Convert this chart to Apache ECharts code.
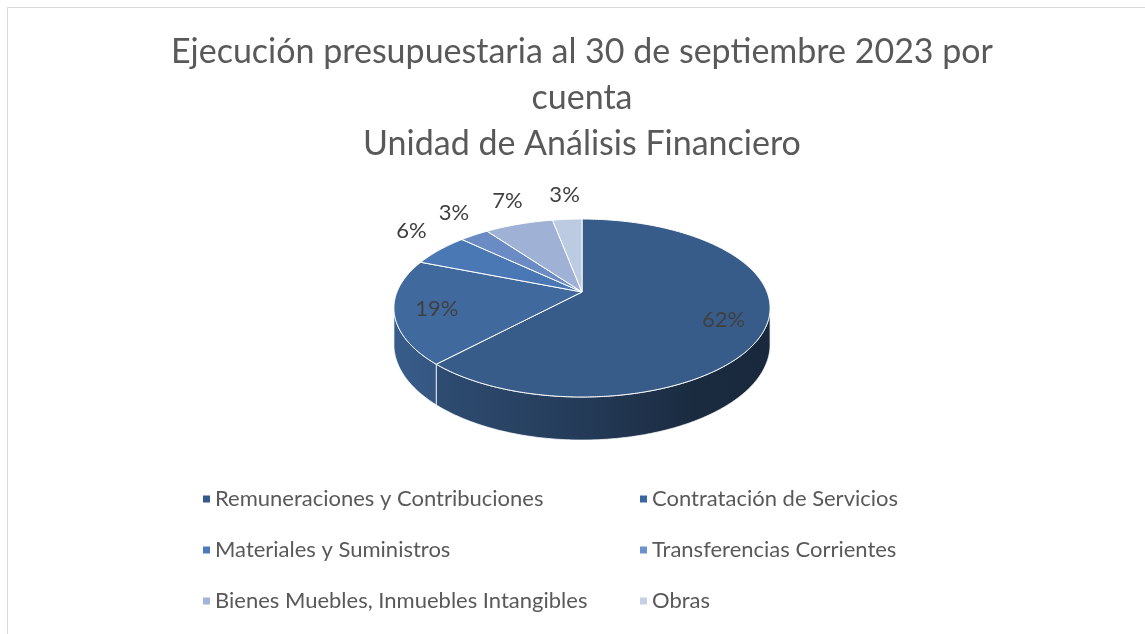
<!DOCTYPE html>
<html>
<head>
<meta charset="utf-8">
<script src="https://cdn.jsdelivr.net/npm/echarts@6/dist/echarts.min.js"></script>
<style>
  html, body { margin: 0; padding: 0; width: 1145px; height: 634px; overflow: hidden; background: #fff; }
  #main {
    position: absolute; left: 7px; top: 7px;
    width: 1148px; height: 640px;
    border-left: 1px solid #d9d9d9;
    border-top: 1px solid #d9d9d9;
  }
</style>
</head>
<body>
<div id="main"></div>
<script>
const categories = [
  "Remuneraciones y Contribuciones",
  "Contratación de Servicios",
  "Materiales y Suministros",
  "Transferencias Corrientes",
  "Bienes Muebles, Inmuebles Intangibles",
  "Obras"
];
const values = [62, 19, 6, 3, 7, 3];

// colours: legend swatch and lit top face of each slice
const legendColors = ["#34598a", "#3b67a0", "#4a7bbd", "#6d92cb", "#a1b4da", "#c5d0e6"];
const topColors = ["#385c89", "#40699d", "#4a78b4", "#6a8bc3", "#9fb2d6", "#bccae2"];

const FONT = "Lato";
const TXT = "#595959";

let myChart = echarts.init(document.getElementById("main"));

// fake perspective for the tilted pie
const cx = 574, cy = 284;   // apex of slices
const A = 86.1, B = 185, k = 0.18, H = 35.3;
const SIL0 = Math.acos(-k), SIL1 = 2 * Math.PI - SIL0;

function project(r, t) {
  let w = 1 + k * r * Math.cos(t);
  return [cx + B * r * Math.sin(t) / w, cy - A * r * Math.cos(t) / w];
}
function bottom(t) {
  let p = project(1, t);
  let w = 1 + k * Math.cos(t);
  return [p[0], p[1] + H / w];
}
function shade(hex, f) {
  let n = parseInt(hex.slice(1), 16);
  let r = Math.round(((n >> 16) & 255) * f), g = Math.round(((n >> 8) & 255) * f), b = Math.round((n & 255) * f);
  return "rgb(" + r + "," + g + "," + b + ")";
}
function arc(a0, a1, fn) {
  let pts = [], steps = Math.max(2, Math.ceil((a1 - a0) / 0.01));
  for (let s = 0; s <= steps; s++) pts.push(fn(a0 + (a1 - a0) * s / steps));
  return pts;
}

const total = values.reduce((a, b) => a + b, 0);

function renderSlice(i) {
  return function (params, api) {
    let start = 0;
    for (let j = 0; j < i; j++) start += values[j];
    let a0 = start / total * 2 * Math.PI;
    let a1 = (start + values[i]) / total * 2 * Math.PI;
    let children = [];

    // front wall
    let w0 = Math.max(a0, SIL0), w1 = Math.min(a1, SIL1);
    if (w1 > w0) {
      let topArc = arc(w0, w1, (t) => project(1, t));
      let botArc = arc(w0, w1, bottom).reverse();
      children.push({
        type: "polygon",
        shape: { points: topArc.concat(botArc) },
        style: {
          fill: {
            type: "linear", x: cx - B * 1.02, y: 0, x2: cx + B * 1.02, y2: 0, global: true,
            colorStops: [
              { offset: 0, color: shade(topColors[i], 0.88) },
              { offset: 0.5, color: shade(topColors[i], 0.64) },
              { offset: 0.8, color: shade(topColors[i], 0.47) },
              { offset: 1, color: shade(topColors[i], 0.44) }
            ]
          },
          stroke: "rgba(255,255,255,0.75)",
          lineWidth: 1
        }
      });
    }

    // top face
    let pts = [[cx, cy]].concat(arc(a0, a1, (t) => project(1, t)));
    children.push({
      type: "polygon",
      shape: { points: pts },
      style: { fill: topColors[i], stroke: "#ffffff", lineWidth: 1 }
    });

    // data label
    let pct = Math.round(values[i] / total * 100);
    let mid = (a0 + a1) / 2;
    let pos, vAlign;
    if (pct >= 10) {
      pos = project(0.78, mid);
      pos[1] += 2;
      vAlign = "middle";
    } else {
      pos = project(1.22, mid);
      vAlign = "bottom";
    }
    children.push({
      type: "text",
      z2: 10,
      style: {
        text: pct + "%", x: pos[0], y: pos[1],
        align: "center", verticalAlign: vAlign,
        fill: "#404040", fontSize: 22, fontFamily: FONT
      }
    });
    return { type: "group", children: children };
  };
}

let seriesData = categories.map((name, i) => ({
  name: name,
  type: "custom",
  coordinateSystem: "none",
  silent: true,
  itemStyle: { color: legendColors[i] },
  data: [values[i]],
  renderItem: renderSlice(i)
}));

let legendBase = {
  orient: "vertical",
  top: 475,
  itemWidth: 7,
  itemHeight: 7,
  itemGap: 29,
  icon: "rect",
  selectedMode: false,
  textStyle: { fontSize: 22, fontFamily: FONT, color: TXT, lineHeight: 20 }
};

let option = {
  animation: false,
  title: {
    text: "Ejecución presupuestaria al 30 de septiembre 2023 por\ncuenta\nUnidad de Análisis Financiero",
    left: "center",
    top: 21,
    padding: 0,
    textStyle: { fontSize: 34, fontWeight: "normal", fontFamily: FONT, color: TXT, lineHeight: 46 }
  },
  legend: [
    Object.assign({}, legendBase, { left: 190, data: [categories[0], categories[2], categories[4]] }),
    Object.assign({}, legendBase, { left: 627, data: [categories[1], categories[3], categories[5]] })
  ],
  series: seriesData
};
myChart.setOption(option);
</script>
</body>
</html>
